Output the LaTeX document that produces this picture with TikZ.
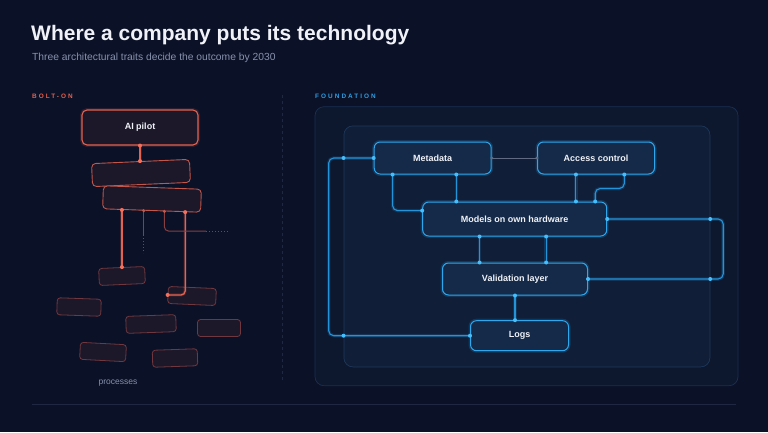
\documentclass[tikz,border=0pt]{standalone}
\usepackage{fontspec}
\setmainfont{Liberation Sans}
\newfontfamily\tracked[LetterSpace=32]{Liberation Sans}
\usetikzlibrary{calc,positioning}
\definecolor{bgnavy}{RGB}{11,17,39}
\definecolor{titlewhite}{RGB}{240,242,248}
\definecolor{subgrey}{RGB}{135,146,172}
\definecolor{boltred}{RGB}{228,98,80}
\definecolor{dotred}{RGB}{245,112,92}
\definecolor{ghostred}{RGB}{112,56,62}
\definecolor{procfill}{RGB}{28,24,42}
\definecolor{fndblue}{RGB}{48,158,228}
\definecolor{shellfill}{RGB}{13,23,46}
\definecolor{shelldraw}{RGB}{26,48,82}
\definecolor{corefill}{RGB}{16,30,56}
\definecolor{coredraw}{RGB}{30,56,90}
\definecolor{nodefill}{RGB}{20,42,72}
\definecolor{nodeblue}{RGB}{45,168,238}
\definecolor{linkblue}{RGB}{36,148,218}
\definecolor{dotblue}{RGB}{70,190,252}
\definecolor{linkgrey}{RGB}{96,106,128}
\definecolor{rulegrey}{RGB}{30,40,64}
\tikzset{
  pilot/.style={draw=boltred,line width=1.1,rounded corners=5,fill=procfill,text=titlewhite,
    font=\bfseries\fontsize{9}{11}\selectfont,minimum width=116,minimum height=35,inner sep=0,
    preaction={draw=boltred,line width=4,opacity=.15}},
  proc/.style={draw=boltred!85!bgnavy,line width=0.9,rounded corners=4,fill=procfill,
    minimum width=98,minimum height=23,inner sep=0},
  ghost/.style={draw=ghostred,line width=0.8,rounded corners=3,fill=procfill,minimum height=17,inner sep=0},
  layer/.style={rounded corners=9,line width=0.7,inner sep=0},
  fnode/.style={draw=nodeblue,line width=1,rounded corners=6,fill=nodefill,text=titlewhite,
    font=\bfseries\fontsize{9}{11}\selectfont,inner sep=0,
    preaction={draw=nodeblue,line width=4,opacity=.18}},
  redlink/.style={draw=boltred,line width=1.3,preaction={draw=boltred,line width=3,opacity=.2}},
  dimlink/.style={draw=ghostred!80!boltred,line width=1},
  bluelink/.style={draw=linkblue,line width=1.1,rounded corners=5,
    preaction={draw=linkblue,line width=3.5,opacity=.2}},
  greylink/.style={draw=linkgrey,line width=0.7},
  eyebrow/.style={anchor=base west,inner sep=0,font=\tracked\bfseries\fontsize{6.4}{7}\selectfont}
}
\begin{document}
\begin{tikzpicture}[x=1pt,y=-1pt]
\fill[bgnavy] (0,0) rectangle (768,432);
\useasboundingbox (0,0) rectangle (768,432);
% heading
\node[anchor=base west,inner sep=0,text=titlewhite,font=\bfseries\fontsize{21}{24}\selectfont] (title) at (31,40) {Where a company puts its technology};
\node[anchor=base west,inner sep=0,text=subgrey,font=\fontsize{10.3}{12}\selectfont] (subtitle) at (32,60) {Three architectural traits decide the outcome by 2030};
\node[eyebrow,text=boltred] (bolttag) at (32,98) {BOLT-ON};
\node[eyebrow,text=fndblue] (fndtag) at (315,98) {FOUNDATION};
\draw[rulegrey,dash pattern=on 3 off 3] (282,95) -- (282,382);
\draw[rulegrey] (32,404) -- (736,404);
% bolt-on side
\node[pilot] (pilot) at (140,127.5) {AI pilot};
\node[proc,rotate=2.5] (stage1) at (141,173) {};
\node[proc,rotate=-2] (stage2) at (152,199) {};
\node[ghost,minimum width=46,rotate=2.5] (taskA) at (122,276) {};
\node[ghost,minimum width=48,rotate=-2.5] (taskB) at (192,296) {};
\node[ghost,minimum width=44,rotate=-2] (taskC) at (79,307) {};
\node[ghost,minimum width=50,rotate=2] (taskD) at (151,324) {};
\node[ghost,minimum width=43] (taskE) at (219,328) {};
\node[ghost,minimum width=46,rotate=-3] (taskF) at (103,352) {};
\node[ghost,minimum width=45,rotate=2] (taskG) at (175,358) {};
\node[anchor=base,inner sep=0,text=subgrey,font=\fontsize{8.5}{10}\selectfont] (proclabel) at (118,384) {processes};
\coordinate (s1) at ($(stage2.south west)!0.2!(stage2.south east)$);
\coordinate (s2) at ($(stage2.south west)!0.42!(stage2.south east)$);
\coordinate (s3) at ($(stage2.south west)!0.63!(stage2.south east)$);
\coordinate (s4) at ($(stage2.south west)!0.84!(stage2.south east)$);
\coordinate (loose2) at (s2 |- 0,235);
\coordinate (loose3) at (206,231);
\draw[redlink] (pilot.south) -- (pilot.south |- stage1.north);
\draw[redlink] (s1) -- (s1 |- taskA.north);
\draw[redlink,rounded corners=4] (s4) |- (taskB.west);
\draw[dimlink] (s2) -- (loose2);
\draw[dimlink,dotted] (loose2) -- ++(0,18);
\draw[dimlink,rounded corners=4] (s3) |- (loose3);
\draw[dimlink,dotted] (loose3) -- ++(22,0);
\foreach \p in {pilot.south,{pilot.south |- stage1.north},s1,s4,{s1 |- taskA.north},taskB.west}{\fill[dotred] (\p) circle[radius=2pt];}
\foreach \p in {s2,s3}{\fill[ghostred!40!dotred] (\p) circle[radius=1.7pt];}
% foundation side
\node[layer,draw=shelldraw,fill=shellfill,minimum width=423,minimum height=279] (found) at (526.5,246.2) {};
\node[layer,draw=coredraw,fill=corefill,minimum width=366,minimum height=241] (core) at (526.9,246.4) {};
\node[fnode,minimum width=117,minimum height=32] (meta) at (432.7,158) {Metadata};
\node[fnode,minimum width=117,minimum height=32] (access) at (596,158) {Access control};
\node[fnode,minimum width=184,minimum height=34] (models) at (514.7,219) {Models on own hardware};
\node[fnode,minimum width=145,minimum height=32] (valid) at (515,279) {Validation layer};
\node[fnode,minimum width=98,minimum height=30] (logs) at (519.5,335.7) {Logs};
\coordinate (m1) at ($(meta.south west)!0.16!(meta.south east)$);
\coordinate (m2) at ($(meta.south west)!0.7!(meta.south east)$);
\coordinate (a1) at ($(access.south west)!0.33!(access.south east)$);
\coordinate (a2) at ($(access.south west)!0.74!(access.south east)$);
\coordinate (a3) at ([xshift=-12pt]models.north east);
\coordinate (mi) at ($(models.north west)!0.26!(models.south west)$);
\coordinate (b1) at ($(models.south west)!0.31!(models.south east)$);
\coordinate (b2) at ($(models.south west)!0.67!(models.south east)$);
\draw[greylink] (meta.east) -- (access.west);
\draw[bluelink] (m1) |- (mi);
\draw[bluelink] (m2) -- (m2 |- models.north);
\draw[bluelink] (a1) -- (a1 |- models.north);
\draw[bluelink] (a2) -- ++(0,14) -| (a3);
\draw[bluelink] (b1) -- (b1 |- valid.north);
\draw[bluelink] (b2) -- (b2 |- valid.north);
\draw[bluelink] (models.east) -- ++(116,0) |- (valid.east);
\draw[bluelink] (valid.south) -- (valid.south |- logs.north);
\draw[bluelink] (meta.west) -- ++(-45,0) |- (logs.west);
\foreach \p in {meta.east,access.west}{\fill[linkgrey] (\p) circle[radius=1.6pt];}
\foreach \p in {m1,m2,a1,a2,a3,mi,b1,b2,{m2 |- models.north},{a1 |- models.north},{b1 |- valid.north},{b2 |- valid.north},models.east,valid.east,valid.south,{valid.south |- logs.north},meta.west,logs.west,{core.east |- models.east},{core.east |- valid.east},{core.west |- meta.west},{core.west |- logs.west}}{\fill[dotblue] (\p) circle[radius=2pt];}
\end{tikzpicture}
\end{document}
